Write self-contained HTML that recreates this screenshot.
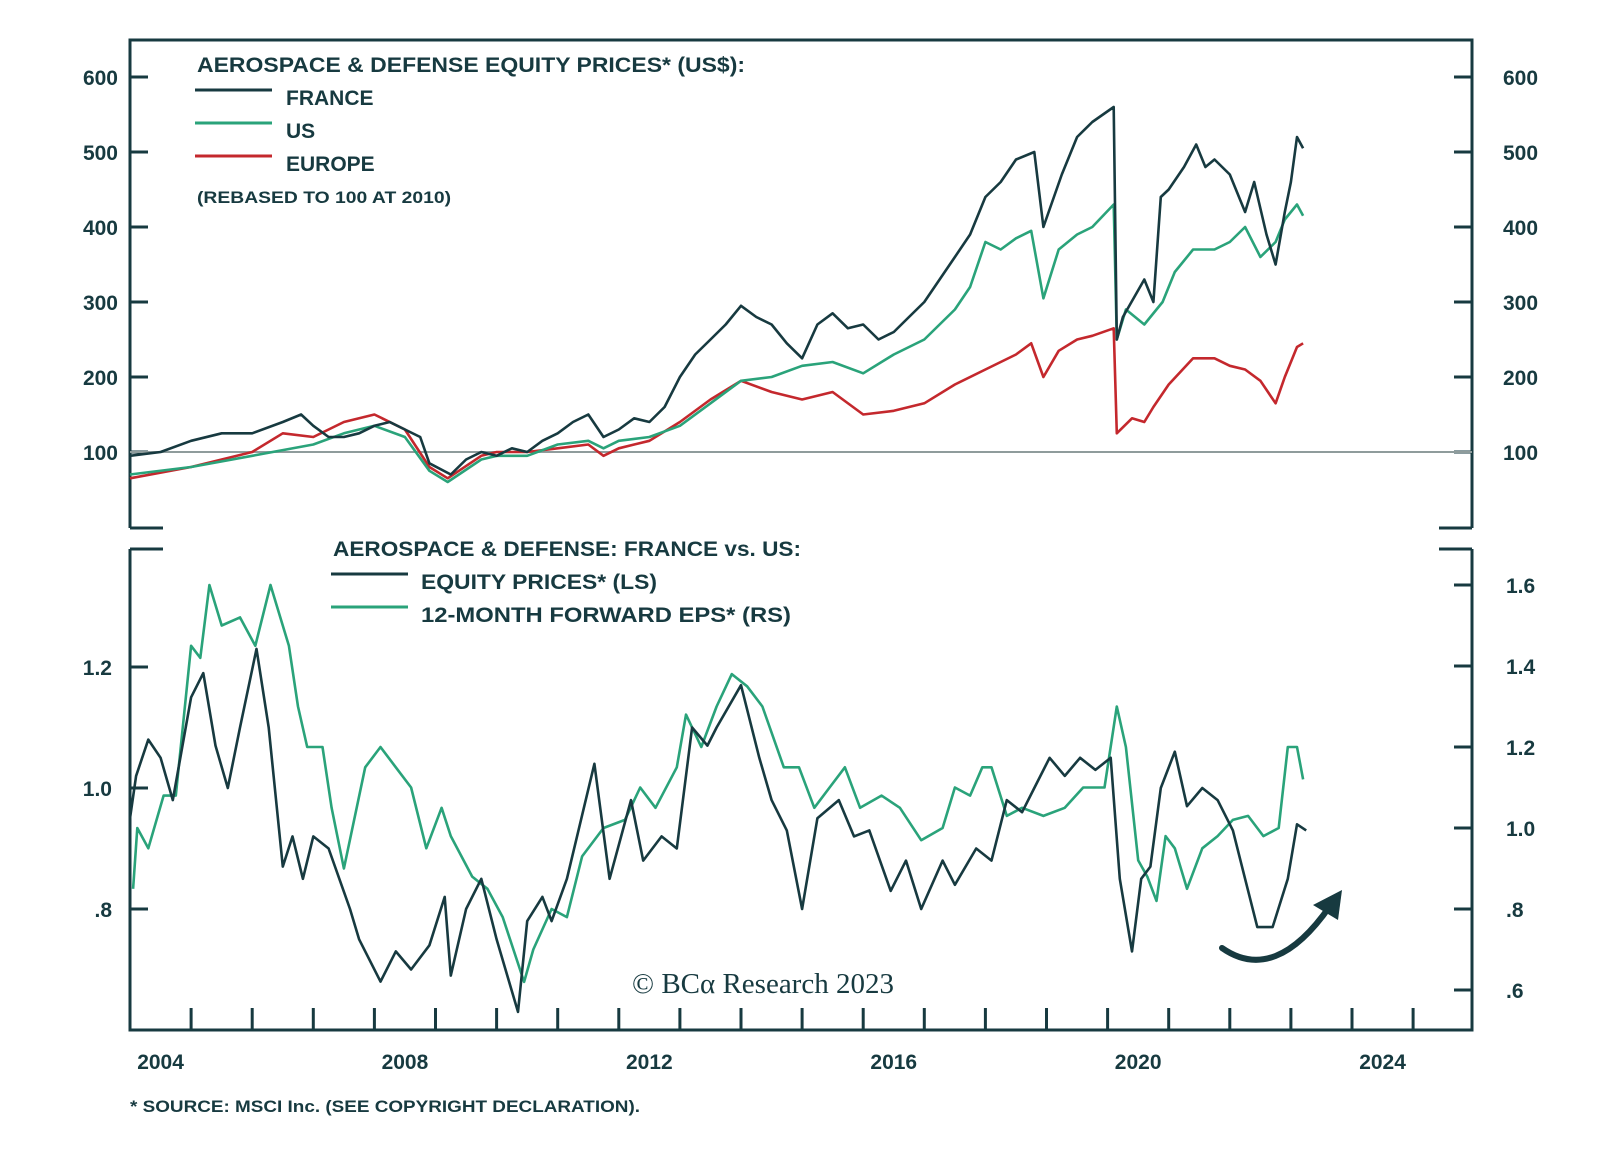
<!DOCTYPE html>
<html><head><meta charset="utf-8"><style>
html,body{margin:0;padding:0;background:#fff;}
svg{display:block;font-family:"Liberation Sans",sans-serif;font-weight:bold;fill:#173a40;}
</style></head><body>
<svg id="chart" width="1600" height="1156" viewBox="0 0 1600 1156" xmlns="http://www.w3.org/2000/svg">
<g id="frame" stroke="#173a40" stroke-width="3" fill="none">
 <path d="M130,528 V40 H1472 V528"/>
 <path d="M130,528 H163 M1472,528 H1439"/>
 <path d="M130,549 V1030 H1472 V549"/>
 <path d="M130,549 H163 M1472,549 H1439"/>
</g>
<g id="ticks" stroke="#173a40" stroke-width="3"></g>
<g id="labels" font-size="21"></g>
<line x1="130" x2="1472" y1="452" y2="452" stroke="#8f9c9c" stroke-width="2"/>
<g id="series" fill="none" stroke-width="2.6" stroke-linejoin="round"></g>
<g font-size="21">
 <text x="197" y="72" textLength="548" lengthAdjust="spacingAndGlyphs">AEROSPACE &amp; DEFENSE EQUITY PRICES* (US$):</text>
 <line x1="195" x2="272" y1="90" y2="90" stroke="#173a40" stroke-width="3"/>
 <line x1="195" x2="272" y1="123" y2="123" stroke="#2aa37a" stroke-width="3"/>
 <line x1="195" x2="272" y1="156" y2="156" stroke="#c4282d" stroke-width="3"/>
 <text x="286" y="105">FRANCE</text>
 <text x="286" y="138">US</text>
 <text x="286" y="171">EUROPE</text>
 <text x="197" y="203" font-size="17" textLength="254" lengthAdjust="spacingAndGlyphs">(REBASED TO 100 AT 2010)</text>
</g>
<g font-size="21">
 <text x="333" y="556" textLength="468" lengthAdjust="spacingAndGlyphs">AEROSPACE &amp; DEFENSE: FRANCE vs. US:</text>
 <line x1="331" x2="408" y1="574" y2="574" stroke="#173a40" stroke-width="3"/>
 <line x1="331" x2="408" y1="607" y2="607" stroke="#2aa37a" stroke-width="3"/>
 <text x="421" y="589" textLength="236" lengthAdjust="spacingAndGlyphs">EQUITY PRICES* (LS)</text>
 <text x="421" y="622" textLength="370" lengthAdjust="spacingAndGlyphs">12-MONTH FORWARD EPS* (RS)</text>
</g>
<text x="763" y="993" text-anchor="middle" font-family="Liberation Serif,serif" font-weight="normal" font-size="29">© BCα Research 2023</text>
<text x="130" y="1112" font-size="17" textLength="510" lengthAdjust="spacingAndGlyphs">* SOURCE: MSCI Inc. (SEE COPYRIGHT DECLARATION).</text>
<g>
 <path d="M1222,948 Q1275,985 1330,906" fill="none" stroke="#173a40" stroke-width="6" stroke-linecap="round"/>
 <path d="M1342,890 L1313,905 L1338,920 Z" fill="#173a40"/>
</g>
<script>
const frDates=[2004,2004.5,2005,2005.5,2006,2006.5,2006.8,2007,2007.25,2007.5,2007.75,2008,2008.25,2008.5,2008.75,2008.9,2009.25,2009.5,2009.75,2010,2010.25,2010.5,2010.75,2011,2011.25,2011.5,2011.75,2012,2012.25,2012.5,2012.75,2013,2013.25,2013.5,2013.75,2014,2014.25,2014.5,2014.75,2015,2015.25,2015.5,2015.75,2016,2016.25,2016.5,2016.75,2017,2017.25,2017.5,2017.75,2018,2018.25,2018.5,2018.8,2018.95,2019.25,2019.5,2019.75,2020.1,2020.15,2020.25,2020.6,2020.75,2020.87,2021,2021.25,2021.45,2021.6,2021.75,2022,2022.25,2022.4,2022.6,2022.75,2022.9,2023,2023.1,2023.2];
const frVals=[95,100,115,125,125,140,150,135,120,120,125,135,140,130,120,85,70,90,100,95,105,100,115,125,140,150,120,130,145,140,160,200,230,250,270,295,280,270,245,225,270,285,265,270,250,260,280,300,330,360,390,440,460,490,500,400,470,520,540,560,250,280,330,300,440,450,480,510,480,490,470,420,460,390,350,420,460,520,505];
const usDates=[2004,2005,2006,2007,2007.5,2008,2008.5,2008.9,2009.2,2009.75,2010,2010.5,2011,2011.5,2011.75,2012,2012.5,2013,2013.5,2014,2014.5,2015,2015.5,2016,2016.5,2017,2017.5,2017.75,2018,2018.25,2018.5,2018.75,2018.95,2019.2,2019.5,2019.75,2020.1,2020.15,2020.3,2020.6,2020.9,2021.1,2021.4,2021.75,2022,2022.25,2022.5,2022.75,2022.9,2023.1,2023.2];
const usVals=[70,80,95,110,125,135,120,75,60,90,95,95,110,115,105,115,120,135,165,195,200,215,220,205,230,250,290,320,380,370,385,395,305,370,390,400,430,250,290,270,300,340,370,370,380,400,360,380,410,430,415];
const euDates=[2004,2005,2006,2006.5,2007,2007.5,2008,2008.5,2008.9,2009.2,2009.75,2010,2010.5,2011,2011.5,2011.75,2012,2012.5,2013,2013.5,2014,2014.5,2015,2015.5,2016,2016.5,2017,2017.5,2018,2018.5,2018.75,2018.95,2019.2,2019.5,2019.75,2020.1,2020.15,2020.4,2020.6,2020.75,2021,2021.4,2021.75,2022,2022.25,2022.5,2022.75,2022.9,2023.1,2023.2];
const euVals=[65,80,100,125,120,140,150,130,80,65,95,100,100,105,110,95,105,115,140,170,195,180,170,180,150,155,165,190,210,230,245,200,235,250,255,265,125,145,140,160,190,225,225,215,210,195,165,200,240,245];
const eqDates=[2004,2004.1,2004.3,2004.5,2004.7,2005,2005.2,2005.4,2005.6,2005.8,2006.07,2006.27,2006.5,2006.66,2006.83,2007,2007.25,2007.6,2007.75,2008.1,2008.35,2008.6,2008.9,2009.15,2009.25,2009.5,2009.75,2010,2010.35,2010.5,2010.75,2010.9,2011.15,2011.6,2011.85,2012.2,2012.4,2012.7,2012.95,2013.2,2013.45,2013.6,2014,2014.3,2014.5,2014.75,2015,2015.25,2015.6,2015.85,2016.1,2016.45,2016.7,2016.95,2017.3,2017.5,2017.85,2018.1,2018.35,2018.6,2018.8,2019.05,2019.3,2019.55,2019.8,2020.05,2020.2,2020.4,2020.55,2020.7,2020.87,2021.1,2021.3,2021.55,2021.8,2022.05,2022.2,2022.45,2022.7,2022.95,2023.1,2023.25];
const eqVals=[0.95,1.02,1.08,1.05,0.98,1.15,1.19,1.07,1.0,1.1,1.23,1.1,0.87,0.92,0.85,0.92,0.9,0.8,0.75,0.68,0.73,0.7,0.74,0.82,0.69,0.8,0.85,0.75,0.63,0.78,0.82,0.78,0.85,1.04,0.85,0.98,0.88,0.92,0.9,1.1,1.07,1.1,1.17,1.05,0.98,0.93,0.8,0.95,0.98,0.92,0.93,0.83,0.88,0.8,0.88,0.84,0.9,0.88,0.98,0.96,1.0,1.05,1.02,1.05,1.03,1.05,0.85,0.73,0.85,0.87,1.0,1.06,0.97,1.0,0.98,0.93,0.87,0.77,0.77,0.85,0.94,0.93];
const epsDates=[2004.05,2004.12,2004.3,2004.55,2004.75,2005,2005.15,2005.3,2005.5,2005.8,2006.05,2006.3,2006.6,2006.75,2006.9,2007.15,2007.3,2007.5,2007.85,2008.1,2008.35,2008.6,2008.85,2009.1,2009.25,2009.6,2009.85,2010.1,2010.45,2010.6,2010.9,2011.15,2011.4,2011.75,2012.1,2012.35,2012.6,2012.95,2013.1,2013.35,2013.6,2013.85,2014.1,2014.35,2014.7,2014.95,2015.2,2015.45,2015.7,2015.95,2016.3,2016.6,2016.95,2017.3,2017.5,2017.75,2017.95,2018.1,2018.35,2018.6,2018.95,2019.3,2019.6,2019.95,2020.15,2020.3,2020.5,2020.65,2020.8,2020.95,2021.1,2021.3,2021.55,2021.8,2022.05,2022.3,2022.55,2022.8,2022.95,2023.1,2023.2];
const epsVals=[0.85,1.0,0.95,1.08,1.08,1.45,1.42,1.6,1.5,1.52,1.45,1.6,1.45,1.3,1.2,1.2,1.05,0.9,1.15,1.2,1.15,1.1,0.95,1.05,0.98,0.88,0.85,0.78,0.62,0.7,0.8,0.78,0.93,1.0,1.02,1.1,1.05,1.15,1.28,1.2,1.3,1.38,1.35,1.3,1.15,1.15,1.05,1.1,1.15,1.05,1.08,1.05,0.97,1.0,1.1,1.08,1.15,1.15,1.03,1.05,1.03,1.05,1.1,1.1,1.3,1.2,0.92,0.88,0.82,0.98,0.95,0.85,0.95,0.98,1.02,1.03,0.98,1.0,1.2,1.2,1.12];
const topTicks=[100,200,300,400,500,600];
const leftTicks=[0.8,1.0,1.2];
const leftLabels=['.8','1.0','1.2'];
const rightTicks=[0.6,0.8,1.0,1.2,1.4,1.6];
const rightLabels=['.6','.8','1.0','1.2','1.4','1.6'];
const yearLabels=[2004,2008,2012,2016,2020,2024];

const NS='http://www.w3.org/2000/svg';
const xS=t=>130+(t-2004)*61.1;
const yTop=v=>452-(v-100)*0.75;
const yLeft=v=>909-(v-0.8)*605;
const yRight=v=>909-(v-0.8)*405;
function mk(tag,attrs,parent){const e=document.createElementNS(NS,tag);for(const k in attrs)e.setAttribute(k,attrs[k]);parent.appendChild(e);return e;}
const tg=document.getElementById('ticks'),lg=document.getElementById('labels'),sg=document.getElementById('series');
topTicks.forEach(v=>{
 const y=yTop(v);
 const a=mk('path',{d:`M130,${y}H148M1472,${y}H1454`},tg);
 
 
 const l=mk('text',{x:118,y:y+8,'text-anchor':'end'},lg);l.textContent=v;
 
 
 const r=mk('text',{x:1503,y:y+8},lg);r.textContent=v;
 
 
});
leftTicks.forEach((v,i)=>{
 const y=yLeft(v);
 const a=mk('path',{d:`M130,${y}H148`},tg);
 
 
 const l=mk('text',{x:112,y:y+8,'text-anchor':'end'},lg);l.textContent=leftLabels[i];
 
 
});
rightTicks.forEach((v,i)=>{
 const y=yRight(v);
 const a=mk('path',{d:`M1472,${y}H1454`},tg);
 
 
 const r=mk('text',{x:1506,y:y+8},lg);r.textContent=rightLabels[i];
 
 
});
for(let yr=2005;yr<=2025;yr++){
 const a=mk('path',{d:`M${xS(yr)},1030V1008`},tg);
 
 
}
yearLabels.forEach(yr=>{
 const l=mk('text',{x:xS(yr+0.5),y:1069,'text-anchor':'middle'},lg);l.textContent=yr;
 
 
});
function line(d,v,ys,color,name){
 const p=d.map((t,i)=>(i?'L':'M')+xS(t).toFixed(1)+','+ys(v[i]).toFixed(1)).join('');
 const e=mk('path',{d:p,stroke:color},sg);
 
 
}
line(euDates,euVals,yTop,'#c4282d','europe-line');
line(usDates,usVals,yTop,'#2aa37a','us-line');
line(frDates,frVals,yTop,'#173a40','france-line');
line(epsDates,epsVals,yRight,'#2aa37a','eps-ratio-line');
line(eqDates,eqVals,yLeft,'#173a40','equity-ratio-line');
</script>
</svg>
</body></html>
